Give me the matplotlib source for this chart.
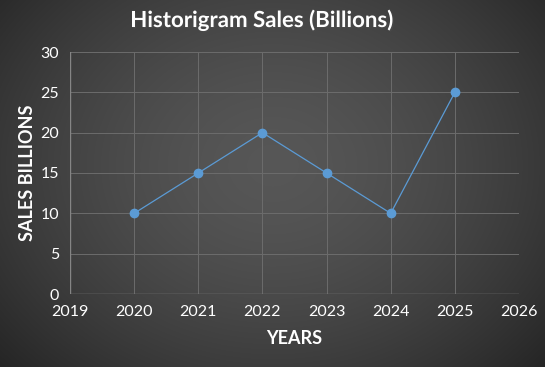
import numpy as np
import matplotlib
matplotlib.use("Agg")
import matplotlib.pyplot as plt
import matplotlib.patheffects as pe

years = [2020, 2021, 2022, 2023, 2024, 2025]
sales = [10, 15, 20, 15, 10, 25]
x_ticks = [2019, 2020, 2021, 2022, 2023, 2024, 2025, 2026]
y_ticks = [0, 5, 10, 15, 20, 25, 30]

plt.rcParams['font.family'] = ['Lato', 'DejaVu Sans']

fig = plt.figure(figsize=(5.45, 3.67), dpi=100)

# radial gradient background
bg = fig.add_axes([0, 0, 1, 1])
bg.set_axis_off()
h, w = 367, 545
yy, xx = np.mgrid[0:h, 0:w]
cx, cy = w * 0.5, h * 0.45
r = np.sqrt(((xx - cx) / (w * 0.62)) ** 2 + ((yy - cy) / (h * 0.75)) ** 2)
val = 0.34 - 0.17 * np.clip(r, 0, 1.2) ** 1.6
img = np.dstack([val, val, val])
bg.imshow(img, aspect='auto', extent=[0, 1, 0, 1])
bg.set_xlim(0, 1)
bg.set_ylim(0, 1)

ax = fig.add_axes([70 / 545, 1 - 294 / 367, (519 - 70) / 545, (294 - 52) / 367])
ax.patch.set_alpha(0)
ax.plot(years, sales, color='#5b9bd5', lw=0.9, marker='o', markersize=6,
        markerfacecolor='#5b9bd5', markeredgecolor='#5b9bd5', zorder=3)
ax.set_xlim(2019, 2026)
ax.set_ylim(0, 30)
ax.set_xticks(x_ticks)
ax.set_yticks(y_ticks)
ax.grid(True, color='#6c6c6c', lw=0.7)
for s in ax.spines.values():
    s.set_visible(False)
ax.axhline(0, color='#858585', lw=1.0, zorder=2)
ax.axvline(2019, color='#858585', lw=1.0, zorder=2)
ax.tick_params(length=0, colors='white', labelsize=11.5, pad=8)
for lab in ax.get_xticklabels() + ax.get_yticklabels():
    lab.set_color('white')

ax.set_xlabel('YEARS', color='white', fontsize=13, fontweight='bold', labelpad=8)
ax.set_ylabel('SALES BILLIONS', color='white', fontsize=13, fontweight='bold', labelpad=3)
title = 'Historigram Sales (Billions)'
fig.text(0.481, 1 - 20 / 367, title, color='white', fontsize=16,
         fontweight='bold', ha='center', va='center',
         path_effects=[pe.withSimplePatchShadow(offset=(1, -1), alpha=0.5)])

fig.savefig('out.png', dpi=100)
